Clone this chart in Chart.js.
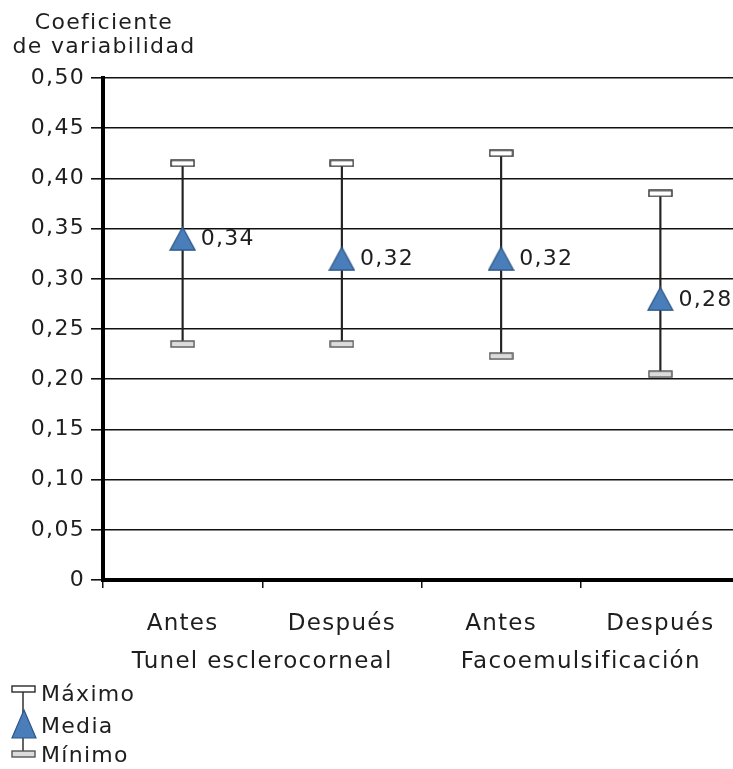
<!DOCTYPE html>
<html>
<head>
<meta charset="utf-8">
<script src="https://cdn.jsdelivr.net/npm/chart.js@4/dist/chart.umd.min.js"></script>
<style>
  html, body { margin: 0; padding: 0; background: #fff; overflow: hidden; }
  #c { display: block; }
</style>
</head>
<body>
<canvas id="c" width="740" height="769"></canvas>
<script>
// Coefficient of variability per technique, before / after
const categories = ['Antes', 'Después', 'Antes', 'Después'];
const groups = ['Tunel esclerocorneal', 'Facoemulsificación'];
const maximo = [0.415, 0.415, 0.425, 0.385];
const media  = [0.34, 0.32, 0.32, 0.28];
const minimo = [0.235, 0.235, 0.223, 0.205];
const yTickValues = [0, 0.05, 0.10, 0.15, 0.20, 0.25, 0.30, 0.35, 0.40, 0.45, 0.50];
const yTitle = ['Coeficiente', 'de variabilidad'];
const legendItems = ['Máximo', 'Media', 'Mínimo'];

const FONT = '"DejaVu Sans", Verdana, sans-serif';
const TEXT = '#1e1e1e';
const BLUE = '#4a7ebb';
const BLUE_EDGE = '#2d5686';
const SPACING = '1.3px';

function fmt(v) { return v === 0 ? '0' : v.toFixed(2).replace('.', ','); }

// marker images
function capImage(fill, stroke) {
  const c = document.createElement('canvas');
  c.width = 25; c.height = 8;
  const g = c.getContext('2d');
  g.fillStyle = fill; g.strokeStyle = stroke; g.lineWidth = 1.4;
  g.fillRect(1, 1, 23, 6); g.strokeRect(1, 1, 23, 6);
  return c;
}
function triImage() {
  const c = document.createElement('canvas');
  c.width = 27; c.height = 25;
  const g = c.getContext('2d');
  g.beginPath(); g.moveTo(13.5, 1); g.lineTo(26, 24); g.lineTo(1, 24); g.closePath();
  g.fillStyle = BLUE; g.fill();
  g.strokeStyle = BLUE_EDGE; g.lineWidth = 1.3; g.stroke();
  return c;
}
const maxCap = capImage('#ffffff', '#2a2a2a');
const minCap = capImage('#dcdcdc', '#555555');
const tri = triImage();

const extras = {
  id: 'extras',
  beforeDraw(chart) { chart.ctx.letterSpacing = SPACING; },
  afterDatasetsDraw(chart) {
    const ctx = chart.ctx;
    const area = chart.chartArea;
    const x = chart.scales.x;
    ctx.save();
    ctx.letterSpacing = SPACING;
    ctx.fillStyle = TEXT;
    ctx.font = '22px ' + FONT;

    // value labels beside the mean markers
    const meta = chart.getDatasetMeta(0);
    ctx.textAlign = 'left'; ctx.textBaseline = 'middle';
    meta.data.forEach((pt, i) => {
      ctx.fillText(fmt(media[i]), pt.x + 18, pt.y + 1);
    });

    // axis title, centred over the y axis
    ctx.textAlign = 'center'; ctx.textBaseline = 'alphabetic';
    ctx.fillText(yTitle[0], area.left + 1, 29);
    ctx.fillText(yTitle[1], area.left + 1, 53);

    // group labels under each pair of categories
    ctx.font = '23px ' + FONT;
    groups.forEach((g, k) => {
      const cx = (x.getPixelForValue(2 * k) + x.getPixelForValue(2 * k + 1)) / 2;
      ctx.fillText(g, cx, 668);
    });

    // legend
    ctx.font = '22px ' + FONT;
    ctx.textAlign = 'left';
    ctx.fillText(legendItems[0], 41, 701);
    ctx.fillText(legendItems[1], 41, 733);
    ctx.fillText(legendItems[2], 41, 762);
    ctx.strokeStyle = '#222'; ctx.lineWidth = 1.4;
    ctx.beginPath(); ctx.moveTo(23, 689); ctx.lineTo(23, 754); ctx.stroke();
    ctx.drawImage(maxCap, 11, 685);
    ctx.drawImage(minCap, 11, 750);
    ctx.beginPath(); ctx.moveTo(24, 710); ctx.lineTo(36, 738); ctx.lineTo(12, 738); ctx.closePath();
    ctx.fillStyle = BLUE; ctx.fill();
    ctx.strokeStyle = BLUE_EDGE; ctx.lineWidth = 1.2; ctx.stroke();
    ctx.restore();
  }
};

new Chart(document.getElementById('c'), {
  data: {
    labels: categories,
    datasets: [
      { type: 'line', label: 'Media', data: media, showLine: false, order: 0,
        pointStyle: tri, pointRadius: 12 },
      { type: 'line', label: 'Máximo', data: maximo, showLine: false, order: 1,
        pointStyle: maxCap, pointRadius: 10 },
      { type: 'line', label: 'Mínimo', data: minimo, showLine: false, order: 1,
        pointStyle: minCap, pointRadius: 10 },
      { type: 'bar', label: 'rango', data: minimo.map((m, i) => [m, maximo[i]]), order: 3,
        backgroundColor: '#222', barThickness: 1.5, borderWidth: 0 }
    ]
  },
  options: {
    responsive: false,
    animation: false,
    devicePixelRatio: 1,
    layout: { autoPadding: false, padding: { top: 78, left: 0, right: 0, bottom: 0 } },
    plugins: { legend: { display: false }, tooltip: { enabled: false } },
    scales: {
      x: {
        type: 'category',
        offset: true,
        afterFit(s) { s.height = 189; s.paddingLeft = 0; s.paddingRight = 0; },
        grid: { offset: true, drawOnChartArea: false, drawTicks: true, tickLength: 8,
                color: '#111', lineWidth: 1.5 },
        border: { display: true, color: '#000', width: 4 },
        ticks: { color: TEXT, font: { family: FONT, size: 23 }, padding: 22,
                 autoSkip: false, maxRotation: 0 }
      },
      y: {
        min: 0, max: 0.5,
        afterFit(s) { s.width = 103; },
        afterBuildTicks(s) { s.ticks = yTickValues.map(v => ({ value: v })); },
        grid: { color: '#111', lineWidth: 1.6, drawTicks: true, tickLength: 12 },
        border: { display: true, color: '#000', width: 4 },
        ticks: { color: TEXT, font: { family: FONT, size: 22 }, padding: 6,
                 callback: v => fmt(v) }
      }
    }
  },
  plugins: [extras]
});
</script>
</body>
</html>
